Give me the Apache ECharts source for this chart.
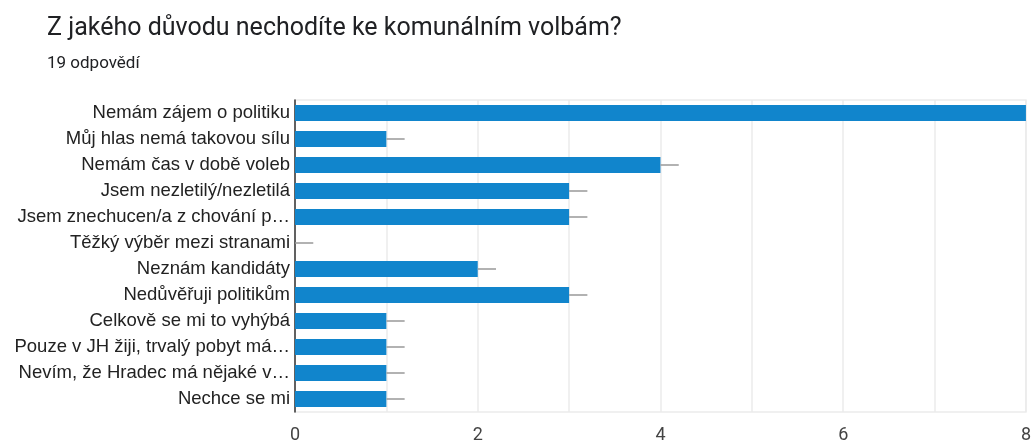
<!DOCTYPE html>
<html>
<head>
<meta charset="utf-8">
<script src="https://cdn.jsdelivr.net/npm/echarts@6/dist/echarts.min.js"></script>
<style>
  html, body { margin: 0; padding: 0; background: #fff; }
  #chartDom { width: 1034px; height: 444px; }
</style>
</head>
<body>
<div id="chartDom"></div>
<script>
// odpovědi
const categories = [
  'Nemám zájem o politiku',
  'Můj hlas nemá takovou sílu',
  'Nemám čas v době voleb',
  'Jsem nezletilý/nezletilá',
  'Jsem znechucen/a z chování p…',
  'Těžký výběr mezi stranami',
  'Neznám kandidáty',
  'Nedůvěřuji politikům',
  'Celkově se mi to vyhýbá',
  'Pouze v JH žiji, trvalý pobyt má…',
  'Nevím, že Hradec má nějaké v…',
  'Nechce se mi'
];
const counts = [8, 1, 4, 3, 3, 0, 2, 3, 1, 1, 1, 1];
const tickLabels = ['0', '2', '4', '6', '8'];

var myChart = echarts.init(document.getElementById('chartDom'));

const option = {
  animation: false,
  title: {
    text: 'Z jakého důvodu nechodíte ke komunálním volbám?',
    subtext: '19 odpovědí',
    left: 42,
    top: 11,
    itemGap: 14,
    textStyle: { fontFamily: 'Roboto', fontSize: 25, fontWeight: 'normal', color: '#202124' },
    subtextStyle: { fontFamily: 'Roboto', fontSize: 17, color: '#202124' }
  },
  grid: {
    left: 295, right: 4, top: 100, bottom: 28,
    show: true, borderColor: '#ebebeb', borderWidth: 1.5
  },
  xAxis: {
    type: 'value',
    min: 0,
    max: 8,
    interval: 1,
    axisLine: { show: false },
    axisTick: { show: false },
    splitLine: { lineStyle: { color: '#ebebeb', width: 1.5 } },
    axisLabel: {
      margin: 14,
      fontFamily: 'Roboto',
      fontSize: 18,
      color: '#444',
      formatter: v => (v % 2 === 0 ? tickLabels[v / 2] : '')
    }
  },
  yAxis: {
    type: 'category',
    data: categories,
    inverse: true,
    axisLine: { show: true, lineStyle: { color: '#333', width: 1.5 } },
    axisTick: { show: false },
    axisLabel: { margin: 5, fontFamily: 'Liberation Sans', fontSize: 18.5, color: '#222' }
  },
  series: [
    {
      type: 'bar',
      data: counts,
      barWidth: 16,
      itemStyle: { color: '#1185cc' },
      z: 2
    },
    {
      // šedá čárka za koncem sloupce
      type: 'custom',
      data: counts.map((v, i) => [v, i]),
      z: 3,
      renderItem: function (params, api) {
        const a = api.coord([api.value(0), api.value(1)]);
        const b = api.coord([api.value(0) + 0.2, api.value(1)]);
        return {
          type: 'line',
          shape: { x1: a[0], y1: a[1], x2: b[0], y2: b[1] },
          style: { stroke: '#999', lineWidth: 1.5 }
        };
      },
      clip: true
    }
  ]
};

myChart.setOption(option);
</script>
</body>
</html>
